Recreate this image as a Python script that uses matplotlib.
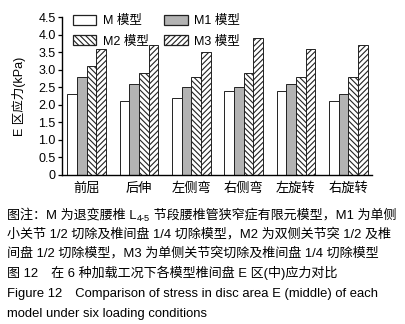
import matplotlib
matplotlib.use("Agg")
import matplotlib.pyplot as plt
import numpy as np
from matplotlib.patches import Patch

plt.rcParams['font.family'] = ['Liberation Sans', 'Noto Sans CJK SC', 'DejaVu Sans']
plt.rcParams['hatch.linewidth'] = 0.8

categories = ['前屈', '后伸', '左侧弯', '右侧弯', '左旋转', '右旋转']
series_names = ['M 模型', 'M1 模型', 'M2 模型', 'M3 模型']
m_vals = [2.3, 2.1, 2.2, 2.4, 2.4, 2.1]
m1_vals = [2.8, 2.6, 2.5, 2.5, 2.6, 2.3]
m2_vals = [3.1, 2.9, 2.8, 2.9, 2.8, 2.8]
m3_vals = [3.6, 3.7, 3.5, 3.9, 3.6, 3.7]
y_ticks = [0, 0.5, 1.0, 1.5, 2.0, 2.5, 3.0, 3.5, 4.0, 4.5]
y_ticklabels = ['0', '0.5', '1.0', '1.5', '2.0', '2.5', '3.0', '3.5', '4.0', '4.5']
y_label = 'E 区应力(kPa)'

caption_lines = [
    None,
    '小关节 1/2 切除及椎间盘 1/4 切除模型，M2 为双侧关节突 1/2 及椎',
    '间盘 1/2 切除模型，M3 为单侧关节突切除及椎间盘 1/4 切除模型',
    '图 12　在 6 种加载工况下各模型椎间盘 E 区(中)应力对比',
    'Figure 12　Comparison of stress in disc area E (middle) of each',
    'model under six loading conditions',
]
line1_parts = ['图注：M 为退变腰椎 L', '4-5', ' 节段腰椎管狭窄症有限元模型，M1 为单侧']

W, H = 406, 324
fig = plt.figure(figsize=(W / 100, H / 100), dpi=100)
ax = fig.add_axes([62 / W, 1 - 174.7 / H, (372 - 62) / W, (174.7 - 17.3) / H])

x = np.arange(len(categories))
w = 0.185
styles = [
    dict(facecolor='white', hatch=None),
    dict(facecolor='#b3b3b3', hatch=None),
    dict(facecolor='white', hatch='\\\\\\\\\\\\'),
    dict(facecolor='white', hatch='//////'),
]
series = [m_vals, m1_vals, m2_vals, m3_vals]
handles = []
for k, (vals, st) in enumerate(zip(series, styles)):
    ax.bar(x + (k - 1.5) * w, vals, width=w, facecolor=st['facecolor'],
           edgecolor='#222222', linewidth=0.7, hatch=st['hatch'])
    handles.append(Patch(facecolor=st['facecolor'], edgecolor='#222222',
                         linewidth=0.9, hatch=st['hatch'], label=series_names[k]))

ax.set_xlim(-0.474, 5.453)
ax.set_ylim(0, 4.5)
ax.set_yticks(y_ticks)
ax.set_yticklabels(y_ticklabels, fontsize=9)
ax.set_xticks(x)
ax.set_xticklabels(categories, fontsize=9.5, family=['Noto Sans CJK SC'])
ax.tick_params(axis='x', length=0, pad=5)
ax.tick_params(axis='y', length=3, width=0.9, pad=1.5)
for s in ['top', 'right']:
    ax.spines[s].set_visible(False)
for s in ['left', 'bottom']:
    ax.spines[s].set_linewidth(1.0)
ax.set_ylabel(y_label, fontsize=9, labelpad=9)

order = [0, 2, 1, 3]
ax.legend([handles[i] for i in order], [series_names[i] for i in order],
          ncol=2, loc='upper left', bbox_to_anchor=(0.018, 1.045), frameon=False,
          fontsize=9, handlelength=1.9, handleheight=0.8, labelspacing=0.65,
          columnspacing=1.25, handletextpad=0.5, borderaxespad=0)

# caption
fs = 9.4
left = 7 / W
line_y = [214, 233, 252, 272, 292, 312]
fig.canvas.draw()
r = fig.canvas.get_renderer()
base_off = 4.5
t1 = fig.text(left, 1 - (line_y[0] + base_off) / H, line1_parts[0], fontsize=fs, va='baseline')
bb = t1.get_window_extent(r)
t2 = fig.text(bb.x1 / W + 0.5 / W, 1 - (line_y[0] + base_off + 2.5) / H, line1_parts[1],
              fontsize=fs * 0.7, va='baseline')
bb2 = t2.get_window_extent(r)
fig.text(bb2.x1 / W, 1 - (line_y[0] + base_off) / H, line1_parts[2], fontsize=fs, va='baseline')
for i in range(1, 6):
    fig.text(left, 1 - (line_y[i] + base_off) / H, caption_lines[i], fontsize=fs, va='baseline')

fig.savefig('out.png', dpi=100)
